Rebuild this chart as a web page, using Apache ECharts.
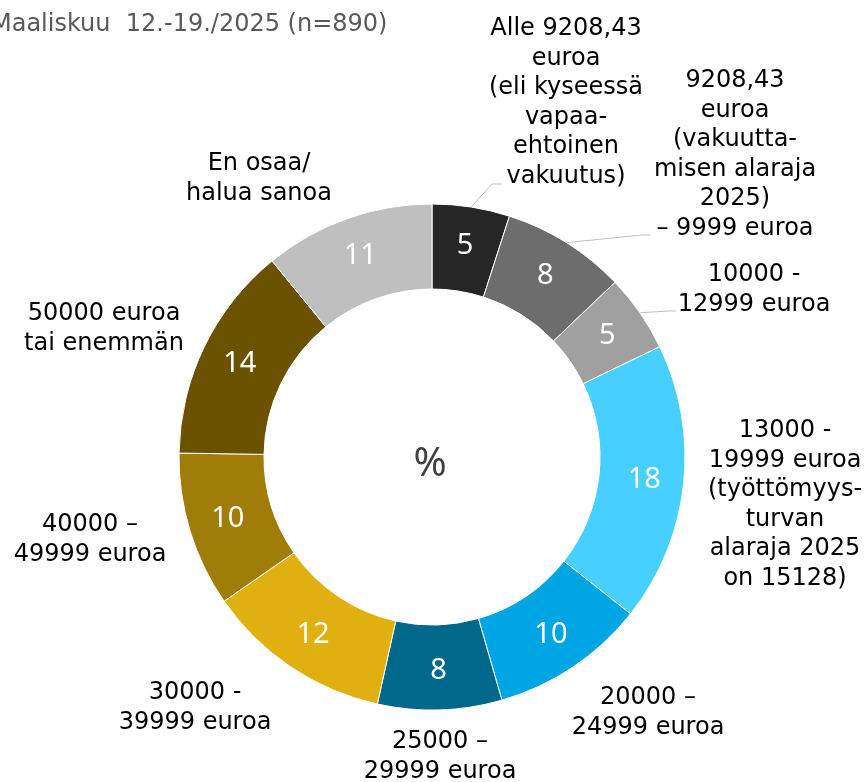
<!DOCTYPE html>
<html>
<head>
<meta charset="utf-8">
<script src="https://cdn.jsdelivr.net/npm/echarts@6/dist/echarts.min.js"></script>
<style>
html, body { margin: 0; padding: 0; background: #fff; }
#chart { width: 867px; height: 782px; }
</style>
</head>
<body>
<div id="chart"></div>
<script>
// luokat myötäpäivään ylhäältä
const categories = [
  'Alle 9208,43\neuroa\n(eli kyseessä\nvapaa-\nehtoinen\nvakuutus)',
  '9208,43\neuroa\n(vakuutta-\nmisen alaraja\n2025)\n– 9999 euroa',
  '10000 -\n12999 euroa',
  '13000 -\n19999 euroa\n(työttömyys-\nturvan\nalaraja 2025\non 15128)',
  '20000 –\n24999 euroa',
  '25000 –\n29999 euroa',
  '30000 -\n39999 euroa',
  '40000 –\n49999 euroa',
  '50000 euroa\ntai enemmän',
  'En osaa/\nhalua sanoa'
]
const values = [5, 8, 5, 18, 10, 8, 12, 10, 14, 11]
const colors = ['#262626', '#6d6d6d', '#a0a0a0', '#47cfff', '#00a5e3',
  '#00688b', '#dfb00f', '#a07c08', '#6a5200', '#bfbfbf']
const titleText = 'Maaliskuu  12.-19./2025 (n=890)'

// nimien paikat (keskipiste, px) ja viivojen taitteet
const labelPos = [[566, 103], [735, 155], [754, 290], [785, 505], [648, 713],
  [440, 757], [195, 708], [90, 540], [104, 329], [259, 179]]
const lineBends = [
  [[492, 184], [502, 184]],
  [[642, 235], [650, 235]],
  [[668, 311], [676, 311]]
]

const chart = echarts.init(document.getElementById('chart'))

const option = {
  backgroundColor: '#fff',
  animation: false,
  title: {
    text: titleText,
    left: -14,
    top: 8,
    textStyle: {
      color: '#595959',
      fontSize: 24,
      fontWeight: 'normal',
      fontFamily: 'DejaVu Sans'
    }
  },
  graphic: [{
    type: 'text',
    x: 430,
    y: 465,
    style: {
      text: '%',
      align: 'center',
      verticalAlign: 'middle',
      fill: '#404040',
      font: '40px "Noto Sans"'
    }
  }],
  series: [
    {
      type: 'pie',
      center: [432, 457],
      radius: [168, 253],
      startAngle: 90,
      clockwise: true,
      avoidLabelOverlap: false,
      itemStyle: { borderColor: '#fff', borderWidth: 1 },
      label: {
        position: 'inside',
        formatter: '{c}',
        color: '#fff',
        fontSize: 29,
        fontFamily: 'Noto Sans'
      },
      labelLine: { show: false },
      emphasis: { disabled: true },
      data: values.map((v, i) => ({ value: v, name: categories[i], itemStyle: { color: colors[i] } }))
    },
    {
      type: 'pie',
      silent: true,
      center: [432, 457],
      radius: [168, 253],
      startAngle: 90,
      clockwise: true,
      avoidLabelOverlap: false,
      itemStyle: { color: 'rgba(0,0,0,0)' },
      label: {
        position: 'outside',
        formatter: '{b}',
        color: '#000',
        fontSize: 24,
        lineHeight: 29.5,
        align: 'center',
        fontFamily: 'DejaVu Sans'
      },
      labelLine: { length: 8, length2: 8, lineStyle: { color: '#bfbfbf', width: 1 } },
      labelLayout: function (params) {
        const p = labelPos[params.dataIndex]
        const out = { x: p[0], y: p[1], align: 'center', verticalAlign: 'middle' }
        const bends = lineBends[params.dataIndex]
        if (bends && params.labelLinePoints) {
          out.labelLinePoints = [params.labelLinePoints[0]].concat(bends)
        }
        return out
      },
      data: values.map((v, i) => ({
        value: v,
        name: categories[i],
        labelLine: { show: i < lineBends.length }
      }))
    }
  ]
}

chart.setOption(option)
</script>
</body>
</html>
